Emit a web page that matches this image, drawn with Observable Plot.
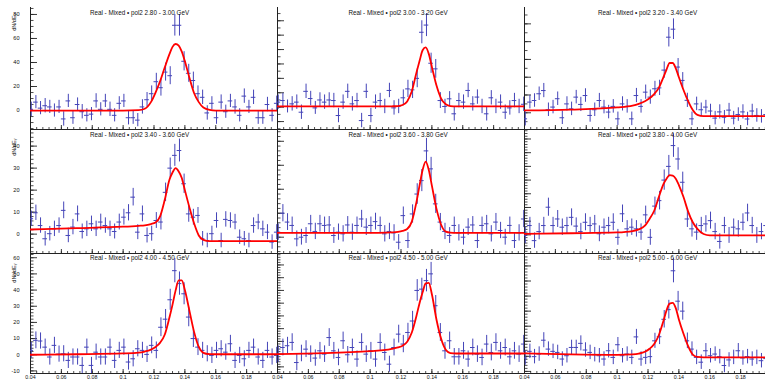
<!DOCTYPE html>
<html><head><meta charset="utf-8">
<script src="https://cdn.jsdelivr.net/npm/d3@7"></script>
<script src="https://cdn.jsdelivr.net/npm/@observablehq/plot@0.6"></script>
<style>
html,body{margin:0;padding:0;background:#fff;overflow:hidden}
#chart{position:relative;width:765px;height:380px;overflow:hidden;background:#fff}
#chart svg{position:absolute;}
</style></head><body><div id="chart"></div>
<script>
// ---- data ----
const binCenters = [0.0405,0.0435,0.0465,0.0495,0.0525,0.0555,0.0585,0.0615,0.0645,0.0675,0.0705,0.0735,0.0765,0.0795,0.0825,0.0855,0.0885,0.0915,0.0945,0.0975,0.1005,0.1035,0.1065,0.1095,0.1125,0.1155,0.1185,0.1215,0.1245,0.1275,0.1305,0.1335,0.1365,0.1395,0.1425,0.1455,0.1485,0.1515,0.1545,0.1575,0.1605,0.1635,0.1665,0.1695,0.1725,0.1755,0.1785,0.1815,0.1845,0.1875,0.1905,0.1935,0.1965,0.1995];
const binHalfWidth = 0.0015;

const ptRanges = ["2.80 - 3.00","3.00 - 3.20","3.20 - 3.40","3.40 - 3.60","3.60 - 3.80","3.80 - 4.00","4.00 - 4.50","4.50 - 5.00","5.00 - 6.00"];

const valR1C1 = [1,7,2,4,3,0,3,-7,8,-6, 5,-1,-4,-3,8,1,8,1,-4,6, 8,-6,-6,-8,3,9,14,24,19,32, 29,71,71,41,31,25,14,11,-2,6, -6,7,-1,8,3,-4,12,3,11,-6, -6,5,-4,6];
const errR1C1 = [6,5.5,5.5,6,5.5,5.5,5.5,6,5.5,5.5, 5.5,6,5.5,5.5,6,5.5,5.5,6,5.5,5.5, 5.5,6,5.5,5.5,6,6,6.5,7,7,7.5, 7.5,9,9,8,7.5,7,6.5,6,6,5.5, 5.5,6,5.5,5.5,6,5.5,6,5.5,6,5.5, 5.5,6,5.5,6];
const valR1C2 = [3.5,4.6,0.5,2.3,3.5,-3.5,11,6,-0.5,5, 3.5,5,4.6,-5.8,3.5,11,2.3,4.6,-9.3,11, -5.8,3.5,4.6,0.5,11.6,-0.5,0.5,6.5,12.7,12, 20,52,57,30.5,26.6,4.6,0.5,5.8,-4.6,4.6, 3.5,11.6,2.3,7,0.5,-4.6,6.5,0.5,3.5,-3.5, -0.5,4.6,0.5,2];
const errR1C2 = [5,5,4.5,5,5,5,5,5,4.5,5, 5,5,5,5,5,5,5,5,5,5, 5,5,5,5,5,5,5,5.5,6,6, 6.5,8,8,7,6.5,5.5,5,5,5,5, 5,5,5,5,5,5,5,5,5,5, 5,5,5,5];
const valR1C3 = [-3.4,6,6.9,10.7,12.5,1.7,3.2,7.9,-2.8,5, 2.2,8.8,4.7,9.7,-1.5,1.7,6.9,3.2,0.4,3.6, -3.4,5,3.6,-3.4,9.7,3.6,11.6,8.8,13.5,14, 24,42.5,47,25.7,18.2,7,-3.4,5,1.7,3.2, 1,-3,0.5,-2.5,1.5,-3,-1,0.5,-3.5,1, -1.5,-2,-1,0];
const errR1C3 = [4,3.8,3.8,3.8,4,3.8,3.8,3.8,3.8,4, 3.8,3.8,4,3.8,3.8,3.8,4,3.8,3.8,3.8, 3.8,4,3.8,3.8,4,3.8,4,4,4.2,4.3, 4.6,5.5,5.8,4.8,4.4,4,3.8,3.8,3.8,3.8, 3.8,3.8,4,3.8,3.8,3.8,3.8,4,3.8,3.8, 3.8,3.8,3.8,3.8];
const valR2C1 = [7,9.7,3.9,-2.1,0.2,2.4,3.9,10.8,-0.6,3.2, 9.2,1.2,2.4,4.7,2.4,5.5,3.9,2.4,1.2,5.5, 7.7,9.7,16.8,0.9,9.2,-0.6,0.2,6.2,5.5,19, 30,35.8,38,22.9,9.2,7.7,8.5,-2.1,-2.9,0.2, 6.2,-2.9,6.7,6.2,5.5,-1.4,-2.1,-2.9,3.9,5.5, 2.4,0.9,-3.6,0.9];
const errR2C1 = [3.5,3.5,3.5,3.3,3.3,3.5,3.5,3.8,3.3,3.5, 3.6,3.4,3.5,3.5,3.5,3.6,3.5,3.5,3.4,3.6, 3.6,3.7,4,3.4,3.6,3.4,3.4,3.6,3.6,4.2, 4.6,5,5.2,4.4,3.8,3.6,3.6,3.3,3.3,3.4, 3.5,3.3,3.5,3.5,3.5,3.3,3.3,3.3,3.5,3.5, 3.5,3.4,3.3,3.4];
const valR2C2 = [2.1,10,6.3,4.9,-0.7,0,0.7,5.6,2.4,5.6, 4.9,5.1,0.7,2.1,1.4,5.1,2.1,4.9,7.6,4.2, 4.9,6.5,4.9,1.4,2.4,1.8,-2.1,9,-1.4,9.7, 18,23.6,36,28.5,13.9,6.3,2.4,0.7,4.9,1.8, 0,4.2,5.1,-1.4,4.9,5.6,1.4,6.3,2.8,0, 4.9,-1.4,1.8,7.6];
const errR2C2 = [3.4,3.6,3.5,3.5,3.3,3.3,3.3,3.5,3.4,3.5, 3.5,3.5,3.3,3.4,3.4,3.5,3.4,3.5,3.6,3.5, 3.5,3.5,3.5,3.4,3.4,3.4,3.2,3.6,3.3,3.8, 4.3,4.6,5.2,4.8,4,3.6,3.4,3.3,3.5,3.4, 3.3,3.5,3.5,3.3,3.5,3.5,3.4,3.6,3.4,3.3, 3.5,3.3,3.4,3.6];
const valR2C3 = [-0.2,3.4,-2.1,1.2,3.4,10.1,3.4,5.8,2.8,3.4, 6.4,3.2,1.2,4.6,3.4,4,0.4,2.8,3.4,4.6, -0.9,7.7,2.2,2.8,2.2,1,7.3,-0.9,10.5,12.5, 20,25,32.6,27.7,19.2,5.8,2.2,1,3.4,4, 5.2,1.2,-2.4,3.4,-0.2,2.8,2.2,4.6,8,3.4, -0.2,1.2,3.4,2];
const errR2C3 = [3,3,2.8,3,3,3.3,3,3.1,3,3, 3.1,3,3,3.1,3,3.1,2.9,3,3,3.1, 2.9,3.2,3,3,3,3,3.2,2.9,3.3,3.4, 3.7,4,4.3,4.1,3.7,3.1,3,3,3,3, 3.1,3,2.8,3,2.9,3,3,3.1,3.2,3, 2.9,3,3,3];
const valR3C1 = [2.7,8.9,8.5,4.7,-1.4,5.8,0.4,0.6,-3.5,-1.4, -1.4,-6.6,4.7,-6.6,1.6,-1.4,-1.4,4.7,-3.5,2.7, 4.7,-4.5,-2.5,3.7,2.7,0.2,5.8,2.7,17,22, 34,52,44,37.7,23.3,10,4.7,2.7,0.6,-0.4, 2.7,3.7,1.6,6.8,-3.5,-0.4,-2.5,2.7,4.7,-1.4, -3.5,2.7,-1.4,-0.4];
const errR3C1 = [5,5.2,5,5,5,5,5,5,5,5, 5,5,5,5,5,5,5,5,5,5, 5,5,5,5,5,5,5.2,5.2,5.8,6, 6.5,7.5,7.2,6.8,6,5.5,5.2,5,5,5, 5,5,5,5.2,5,5,5,5,5,5, 5,5,5,5];
const valR3C2 = [0,5.2,6.6,9.2,-6.6,0.5,3.9,0,-3.1,2.6, 0,13,2.6,-2.6,10.5,-0.5,5.2,-3.9,9.2,0, 2.6,-3.9,9.2,1.3,-7.9,5.2,15.7,7.9,17,26, 50,51,57.7,63,38,17,2.6,10.5,-2.1,-2.1, 2.6,-3.9,5.2,0,-2.6,7.9,1.3,9.2,2.6,5.2, -2.1,2.6,0,7.9];
const errR3C2 = [6.5,6.6,6.6,6.8,6.4,6.5,6.6,6.5,6.4,6.6, 6.5,7,6.6,6.5,6.8,6.5,6.6,6.4,6.8,6.5, 6.6,6.4,6.8,6.6,6.3,6.6,7,6.8,7.2,7.6, 8.5,8.6,8.8,9,8,7,6.6,6.8,6.5,6.5, 6.6,6.4,6.6,6.5,6.5,6.8,6.6,6.8,6.6,6.6, 6.5,6.6,6.5,6.8];
const valR3C3 = [-1.1,3.3,-0.2,1.5,10.7,4.8,3.3,2.6,-1.8,0.4, 5.9,5.9,8.6,4.2,2.6,1.1,0.4,-1.8,3.7,-0.7, 7.7,0.4,1.5,-0.7,12.9,-1.8,-0.7,-0.2,10.3,13, 24.6,31,56.8,36.6,30,10.3,4.8,-0.7,-3.9,3.7, 0.4,1.5,-0.2,-6.1,-2.4,-0.7,3.7,-1.1,-0.2,-1.8, -0.7,-2.9,-1.5,-0.5];
const errR3C3 = [4.8,4.8,4.8,4.8,5,4.8,4.8,4.8,4.8,4.8, 4.8,4.8,5,4.8,4.8,4.8,4.8,4.8,4.8,4.8, 4.8,4.8,4.8,4.8,5,4.8,4.8,4.8,5,5.2, 5.8,6.2,8,6.5,6,5.2,4.8,4.8,4.8,4.8, 4.8,4.8,4.8,4.8,4.8,4.8,4.8,4.8,4.8,4.8, 4.8,4.8,4.8,4.8];

// fit curves (gaus + pol2)
const fitX = [0.04,0.07,0.10,0.110,0.114,0.118,0.121,0.124,0.127,0.130,0.132,0.134,0.136,0.138,0.140,0.143,0.146,0.149,0.152,0.156,0.16,0.18,0.2];
const fitR1C1 = [0,0,0,0.3,1.5,7,15,24.6,36,47,53,55.4,54,49,41,27,14.4,7,2.5,0.5,0,0,0];
const fitR1C2 = [0.5,0.5,0.5,0.5,0.6,0.8,1.5,4,11,24,32,39.5,41.5,37,28,15,6,2,0.8,0.5,0.5,0.5,0.5];
const fitR1C3 = [1.3,1.8,3.0,4.0,5.0,6.5,8.2,10.5,14,20,24.3,28,28,25,20,12.8,6.5,1.5,-1.2,-1.9,-1.9,-1.9,-1.9];
const fitR2C1 = [2.1,2.7,3.4,3.8,4.0,4.6,5.3,8.2,15.7,24.7,28,30,28.5,25.5,20,12,4.8,-0.6,-2.6,-3.2,-3.2,-3.2,-3.2];
const fitR2C2 = [1.8,1.8,1.8,1.9,2.0,2.2,2.6,3.4,6.5,14.6,21.5,28,31.5,28,21.5,11.8,5.2,2.3,1.9,1.8,1.8,1.8,1.8];
const fitR2C3 = [0.4,0.6,0.9,1.4,2.0,3.4,5.8,8.8,13.8,18.5,20.5,21.8,21.6,20.5,18.2,13.8,8.5,4.6,2.2,0.3,-0.2,-0.2,-0.2];
const fitR3C1 = [0,0.3,0.8,1.3,2.0,3.2,4.8,7.5,12.5,23,31,39.8,46,46,40,27,14,4.8,1.2,0.4,0.3,0.3,0.3];
const fitR3C2 = [0,0.8,2.4,3.3,4.2,5.3,6.6,9.8,17,30,40,48.5,55.5,56,47,27,12,3.4,0.8,0.5,0.5,0.5,0.5];
const fitR3C3 = [2.0,1.3,1.0,1.3,1.8,3.0,5,8.2,14,23.5,30.5,35,35.5,32,24.5,15,6.8,1.2,-0.4,-0.7,-0.7,-0.7,-0.7];

// axes
const yDomains = [[-15.8,85.8],[-15.5,69.2],[-9.4,59.2],[-8.8,47.1],[-6.8,44.5],[-6.8,38.1],[-11.6,62],[-15.2,78.2],[-11.4,67.6]];
const yMajorStep = [20,10,10,10,10,5,10,10,10];
const yMinorStep = [5,5,5,2,2,1,2,2,2];
const yTickLabels = [[0,20,40,60,80],null,null,[0,10,20,30,40],null,null,[-10,0,10,20,30,40,50,60],null,null];
const xTickValues = [0.04,0.06,0.08,0.10,0.12,0.14,0.16,0.18,0.20];
const xLabelValues = [0.04,0.06,0.08,0.10,0.12,0.14,0.16,0.18];
const xTickLabels = ["0.04","0.06","0.08","0.1","0.12","0.14","0.16","0.18"];
const yTitles = ["dN/dEᵧ","dN/dEᵧ","dNᵞ/dEᵧ"];

const values = [valR1C1,valR1C2,valR1C3,valR2C1,valR2C2,valR2C3,valR3C1,valR3C2,valR3C3];
const errors = [errR1C1,errR1C2,errR1C3,errR2C1,errR2C2,errR2C3,errR3C1,errR3C2,errR3C3];
const fits = [fitR1C1,fitR1C2,fitR1C3,fitR2C1,fitR2C2,fitR2C3,fitR3C1,fitR3C2,fitR3C3];

// ---- layout ----
const colLeft = [30, 276.5, 524];
const frameW = 247;
const rowTop = [7, 130, 254];
const rowBottom = [129, 253, 373];
const titleCX = [139, 397, 647];
const titleCY = [12, 134, 257];
const yTitleTop = [13, 138, 263];
const ML = 30, MB = 8;
const blue = "#4444b8";
const axisCol = "#222";
const font = "'Liberation Sans', Arial, Helvetica, sans-serif";

const root = document.getElementById("chart");
for (let i = 0; i < 9; i++) {
  const r = Math.floor(i / 3), c = i % 3;
  const H = rowBottom[r] - rowTop[r];
  const [lo, hi] = yDomains[i];
  const maj = yMajorStep[i], mn = yMinorStep[i];
  const majTicks = d3.range(Math.ceil(lo / maj) * maj, hi + 1e-9, maj);
  const minTicks = d3.range(Math.ceil(lo / mn) * mn, hi + 1e-9, mn);
  const xMinor = d3.range(0.04, 0.2 + 1e-9, 0.004);
  const pts = binCenters.map((x, k) => ({x, y: values[i][k], e: errors[i][k]}));
  const fit = fitX.map((x, k) => ({x, y: fits[i][k]}));
  const title = "Real - Mixed • pol2 " + ptRanges[i] + " GeV";
  const marks = [
    Plot.ruleX([0.04], {stroke: axisCol, strokeWidth: 1}),
    Plot.ruleY([lo], {stroke: axisCol, strokeWidth: 1}),
    Plot.tickY(minTicks, {y: d => d, stroke: axisCol, strokeWidth: 0.8, insetRight: frameW - 3.5}),
    Plot.tickY(majTicks, {y: d => d, stroke: axisCol, strokeWidth: 0.9, insetRight: frameW - 7}),
    Plot.tickX(xMinor, {x: d => d, stroke: axisCol, strokeWidth: 0.8, insetTop: H - 2}),
    Plot.tickX(xTickValues, {x: d => d, stroke: axisCol, strokeWidth: 0.9, insetTop: H - 4}),
    Plot.ruleX(pts, {x: "x", y1: d => d.y - d.e, y2: d => d.y + d.e, stroke: blue, strokeWidth: 1, clip: true}),
    Plot.ruleY(pts, {y: "y", x1: d => d.x - binHalfWidth, x2: d => d.x + binHalfWidth, stroke: blue, strokeWidth: 1, clip: true}),
    Plot.line(fit, {x: "x", y: "y", stroke: "#ff0000", strokeWidth: 1.8, curve: "monotone-x", clip: true}),
    Plot.text([title], {frameAnchor: "top", dx: titleCX[c] - (colLeft[c] + frameW / 2), dy: titleCY[r] - rowTop[r], lineAnchor: "middle", fontSize: 6.3, fill: "#111"})
  ];
  if (yTickLabels[i]) {
    marks.push(Plot.text(yTickLabels[i], {x: 0.04, y: d => d, dx: -11, textAnchor: "end", lineAnchor: "middle", fontSize: 5.6, fill: "#111"}));
  }
  if (c === 0) {
    marks.push(Plot.text([yTitles[r]], {frameAnchor: "top-left", dx: 14 - ML, dy: yTitleTop[r] - rowTop[r], rotate: -90, textAnchor: "end", lineAnchor: "middle", fontSize: 5.6, fill: "#111"}));
  }
  if (r === 2) {
    marks.push(Plot.text(xLabelValues, {x: d => d, y: lo, text: (d, k) => xTickLabels[k], dy: 3.7, lineAnchor: "middle", fontSize: 5.3, fill: "#111"}));
  }
  const svg = Plot.plot({
    width: ML + frameW, height: H + MB,
    marginLeft: ML, marginRight: 0, marginTop: 0, marginBottom: MB,
    x: {domain: [0.04, 0.2], axis: null},
    y: {domain: [lo, hi], axis: null},
    style: {background: "transparent", overflow: "visible", fontFamily: font},
    marks
  });
  svg.style.left = (colLeft[c] - ML) + "px";
  svg.style.top = rowTop[r] + "px";
  svg.style.position = "absolute";
  root.appendChild(svg);
}
</script></body></html>
